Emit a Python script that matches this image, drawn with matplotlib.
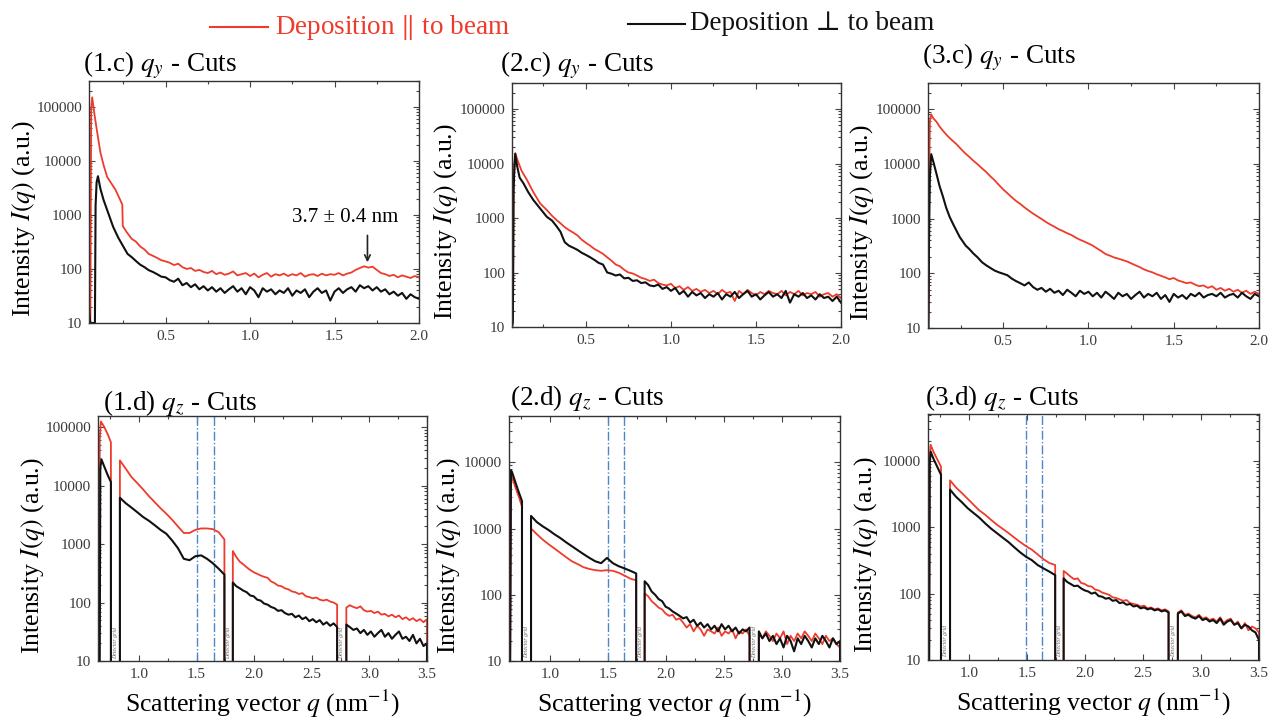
import numpy as np
import matplotlib
matplotlib.use("Agg")
import matplotlib.pyplot as plt
from matplotlib.ticker import LogLocator, FuncFormatter, MultipleLocator, NullFormatter

plt.rcParams['font.family'] = ['Liberation Serif', 'DejaVu Serif']
plt.rcParams['mathtext.fontset'] = 'stix'

RED = '#ee3b2b'
BLACK = '#111111'
GAP_LEVEL = 1  # no counts behind the detector grid

# ---------------- q_y cuts (top row) ----------------
# each series = head (explicit q) + tail on 0.30..2.00
c1_red_qh = [0.047, 0.055, 0.060, 0.066, 0.080, 0.096, 0.115, 0.135, 0.155, 0.180, 0.204, 0.225, 0.244, 0.247, 0.270]
c1_red_ih = [10, 10, 90000, 150000, 70000, 33000, 14000, 8000, 5000, 3800, 2900, 2100, 1550, 620, 480]
c1_red_tail = [360, 320, 260, 230, 190, 175, 160, 145, 138, 130, 118, 125, 108, 100, 104, 92, 96, 88, 84, 92,
               80, 86, 78, 82, 90, 76, 80, 84, 74, 82, 70, 78, 84, 72, 80, 76, 82, 74, 80, 76, 84, 72, 78, 80,
               74, 82, 76, 80, 78, 84, 76, 82, 86, 96, 104, 112, 106, 110, 96, 84, 80, 74, 78, 70, 76, 72, 68, 74, 70]
c1_blk_qh = [0.047, 0.050, 0.053, 0.056, 0.082, 0.086, 0.092, 0.100, 0.115, 0.133, 0.160, 0.190, 0.220, 0.250, 0.275]
c1_blk_ih = [20, 14, 11, 10, 10, 1500, 4000, 5200, 3000, 1900, 1100, 600, 380, 260, 190]
c1_blk_tail = [165, 140, 120, 108, 95, 88, 80, 72, 70, 62, 58, 66, 50, 55, 46, 52, 42, 48, 40, 46, 38, 44, 36, 42,
               48, 38, 44, 34, 46, 40, 30, 44, 38, 42, 34, 40, 36, 44, 32, 40, 36, 42, 30, 38, 44, 36, 40, 26, 38,
               44, 36, 42, 46, 38, 50, 44, 48, 40, 46, 38, 42, 34, 38, 32, 36, 28, 34, 30, 28]

c2_red_qh = [0.065, 0.071, 0.075, 0.084, 0.100, 0.120, 0.153, 0.190, 0.230, 0.270]
c2_red_ih = [10, 18, 5000, 15500, 11000, 7500, 5000, 3000, 1860, 1400]
c2_red_tail = [1100, 930, 800, 680, 600, 540, 480, 400, 350, 310, 270, 245, 220, 190, 165, 140, 130, 112, 100, 96,
               88, 80, 76, 70, 74, 64, 60, 58, 62, 52, 56, 48, 54, 46, 50, 44, 48, 42, 46, 40, 48, 42, 44, 30, 46,
               40, 48, 42, 38, 44, 40, 46, 42, 40, 46, 38, 44, 40, 46, 38, 42, 40, 44, 36, 40, 42, 36, 40, 34]
c2_blk_qh = [0.065, 0.070, 0.074, 0.080, 0.084, 0.095, 0.110, 0.133, 0.160, 0.190, 0.230, 0.270]
c2_blk_ih = [10, 12, 3000, 10000, 15000, 9000, 5500, 4300, 3000, 2150, 1500, 1050]
c2_blk_tail = [900, 720, 560, 360, 310, 285, 260, 230, 210, 190, 170, 150, 140, 100, 95, 88, 92, 78, 80, 70, 72,
               64, 66, 58, 56, 60, 50, 54, 46, 52, 40, 46, 36, 44, 38, 42, 34, 40, 36, 42, 32, 40, 36, 44, 34, 40,
               46, 36, 40, 32, 38, 44, 36, 40, 34, 46, 28, 40, 36, 42, 34, 38, 32, 40, 34, 36, 30, 36, 28]

c3_red_qh = [0.059, 0.063, 0.066, 0.070, 0.078, 0.090, 0.110, 0.127, 0.150, 0.175, 0.200, 0.225, 0.250, 0.275]
c3_red_ih = [10, 28, 4500, 60000, 80000, 68000, 58000, 48000, 39000, 32000, 27000, 23000, 19000, 15800]
c3_red_tail = [13500, 11400, 9800, 8300, 7100, 5900, 5000, 4100, 3400, 2900, 2450, 2100, 1850, 1600, 1400, 1230,
               1100, 980, 870, 780, 710, 640, 590, 540, 500, 450, 410, 380, 350, 320, 285, 255, 225, 210, 195, 185,
               175, 165, 152, 140, 130, 118, 110, 104, 96, 90, 84, 78, 82, 74, 70, 66, 68, 62, 58, 60, 54, 58, 50,
               54, 48, 52, 46, 50, 44, 48, 42, 46, 42]
c3_blk_qh = [0.059, 0.062, 0.065, 0.070, 0.078, 0.090, 0.108, 0.127, 0.147, 0.165, 0.186, 0.210, 0.245, 0.280]
c3_blk_ih = [10, 10, 400, 6000, 15000, 11000, 6700, 3900, 2500, 1600, 1070, 750, 460, 320]
c3_blk_tail = [280, 230, 195, 160, 140, 125, 112, 104, 98, 92, 80, 72, 66, 60, 68, 56, 50, 54, 46, 52, 44, 48, 40,
               50, 44, 38, 48, 42, 46, 38, 44, 36, 46, 40, 34, 44, 38, 42, 34, 40, 46, 36, 42, 38, 44, 34, 40, 30,
               42, 36, 40, 34, 42, 38, 44, 36, 40, 42, 38, 44, 36, 40, 42, 36, 44, 38, 34, 42, 38]

# ---------------- q_z cuts (bottom row) ----------------
gaps = [(0.757, 0.835), (1.742, 1.815), (2.72, 2.80)]
seg_spans = [(0.835, 1.742), (1.815, 2.72), (2.80, 3.50)]

d1_red_q1 = [0.655, 0.660, 0.670, 0.700, 0.730, 0.757]
d1_red_i1 = [10, 60000, 125000, 100000, 75000, 55000]
d1_red_s2 = [27000, 19500, 14000, 11000, 8600, 6600, 5200, 4100, 3300, 2600, 2000, 1550, 1550, 1750, 1850, 1850,
             1800, 1600, 1200]
d1_red_s3 = [760, 600, 500, 450, 400, 360, 330, 310, 290, 275, 265, 230, 215, 195, 190, 175, 168, 155, 150, 140,
             145, 128, 124, 118, 122, 112, 108, 112, 104, 100, 92]
d1_red_s4 = [82, 90, 84, 80, 86, 74, 70, 72, 66, 70, 62, 64, 58, 62, 56, 60, 52, 56, 50, 54, 48, 52, 46, 52]
d1_blk_q1 = [0.660, 0.665, 0.675, 0.700, 0.730, 0.757]
d1_blk_i1 = [10, 20000, 28000, 21000, 15000, 11500]
d1_blk_s2 = [6200, 5000, 4200, 3500, 2900, 2500, 2100, 1750, 1500, 1150, 850, 560, 530, 620, 640, 560, 470, 380, 300]
d1_blk_s3 = [220, 190, 175, 160, 150, 132, 128, 112, 108, 96, 92, 84, 80, 72, 74, 66, 62, 64, 56, 60, 52, 56, 48,
             52, 46, 50, 42, 46, 40, 44, 38]
d1_blk_s4 = [42, 38, 34, 36, 30, 34, 28, 32, 26, 30, 34, 26, 30, 24, 28, 32, 24, 26, 22, 28, 20, 24, 18, 20]

d2_red_q1 = [0.655, 0.662, 0.672, 0.700, 0.730, 0.757]
d2_red_i1 = [10, 5000, 6000, 4200, 3000, 2150]
d2_red_s2 = [1000, 820, 680, 580, 500, 430, 370, 320, 290, 260, 245, 235, 230, 235, 230, 215, 195, 175, 165]
d2_red_s3 = [105, 95, 80, 72, 64, 60, 52, 48, 50, 42, 44, 38, 32, 36, 28, 34, 30, 24, 30, 28, 26, 32, 24, 28, 26,
             30, 22, 28, 26, 30, 24]
d2_red_s4 = [26, 22, 28, 24, 20, 26, 22, 28, 18, 24, 20, 26, 22, 28, 24, 20, 26, 22, 18, 24, 20, 22, 18, 16]
d2_blk_q1 = [0.655, 0.662, 0.670, 0.700, 0.730, 0.757]
d2_blk_i1 = [10, 7500, 7200, 5000, 3500, 2600]
d2_blk_s2 = [1550, 1250, 1080, 950, 820, 720, 620, 540, 470, 410, 360, 320, 300, 360, 300, 270, 250, 230, 210]
d2_blk_s3 = [160, 140, 112, 100, 86, 80, 66, 62, 56, 52, 48, 44, 46, 38, 42, 34, 38, 32, 36, 30, 34, 28, 36, 30,
             34, 28, 32, 26, 30, 28, 32]
d2_blk_s4 = [28, 22, 26, 20, 24, 18, 22, 16, 24, 20, 14, 22, 18, 24, 20, 16, 22, 18, 24, 20, 16, 22, 18, 20]

d3_red_q1 = [0.655, 0.660, 0.668, 0.690, 0.720, 0.757]
d3_red_i1 = [10, 12000, 17500, 14000, 11000, 8200]
d3_red_s2 = [5100, 4000, 3300, 2700, 2200, 1800, 1550, 1300, 1100, 950, 820, 700, 600, 520, 460, 390, 330, 290, 270]
d3_red_s3 = [220, 200, 180, 165, 170, 145, 140, 130, 128, 115, 112, 104, 100, 96, 88, 86, 82, 78, 80, 72, 70, 68,
             64, 66, 60, 62, 58, 60, 56, 58, 54]
d3_red_s4 = [52, 56, 48, 50, 46, 44, 48, 42, 44, 40, 42, 38, 44, 36, 40, 42, 34, 38, 30, 36, 28, 32, 30, 26]
d3_blk_q1 = [0.655, 0.660, 0.668, 0.690, 0.720, 0.757]
d3_blk_i1 = [10, 9000, 13800, 11000, 8500, 6200]
d3_blk_s2 = [3700, 2900, 2400, 1950, 1650, 1400, 1150, 960, 820, 700, 600, 500, 420, 360, 320, 270, 240, 215, 190]
d3_blk_s3 = [170, 150, 140, 130, 132, 120, 112, 108, 100, 104, 92, 90, 84, 86, 78, 80, 72, 74, 68, 70, 64, 66, 60,
             62, 58, 60, 56, 58, 54, 56, 52]
d3_blk_s4 = [50, 54, 46, 48, 44, 42, 46, 40, 42, 38, 40, 36, 42, 34, 38, 40, 34, 36, 30, 34, 32, 28, 26, 20]

marker_lines = [(1.50, 1.65), (1.50, 1.64), (1.49, 1.63)]


def qy_series(qh, ih, tail):
    q = np.concatenate([qh, np.linspace(0.30, 2.00, len(tail))])
    i = np.concatenate([ih, tail])
    return q, i


def qz_series(q1, i1, segs):
    qs = [np.asarray(q1, float)]
    iv = [np.asarray(i1, float)]
    for (a, b), vals in zip(seg_spans, segs):
        qq = np.linspace(a, b, len(vals))
        # drop to zero on both sides of the detector grid
        qs.append(np.concatenate([[qs[-1][-1]], [a], qq, [b]]))
        iv.append(np.concatenate([[GAP_LEVEL], [GAP_LEVEL], vals, [GAP_LEVEL]]))
    return np.concatenate(qs), np.concatenate(iv)


def style_axes(ax, xlim, ylim, xmajor):
    ax.set_yscale('log')
    ax.set_xlim(*xlim)
    ax.set_ylim(*ylim)
    ax.xaxis.set_major_locator(MultipleLocator(xmajor))
    ax.xaxis.set_minor_locator(MultipleLocator(0.25))
    ax.xaxis.set_major_formatter(FuncFormatter(lambda v, _: f'{v:.1f}'))
    ax.yaxis.set_major_locator(LogLocator(base=10))
    ax.yaxis.set_minor_locator(LogLocator(base=10, subs=np.arange(2, 10)))
    ax.yaxis.set_major_formatter(FuncFormatter(lambda v, _: f'{int(round(v))}'))
    ax.yaxis.set_minor_formatter(NullFormatter())
    ax.tick_params(which='both', direction='in', top=True, right=True, colors='#444444',
                   labelsize=11, labelcolor='#3a3a3a', width=0.8, pad=5)
    ax.tick_params(which='major', length=4)
    ax.tick_params(which='minor', length=2)
    for s in ax.spines.values():
        s.set_color('#333333')
        s.set_linewidth(1.0)
    ax.set_ylabel('Intensity $I(q)$ (a.u.)', fontsize=18.5)


fig = plt.figure(figsize=(12.7, 7.22), dpi=100)
W, H = 1270, 722


def px_axes(l, t, r, b):
    return fig.add_axes([l / W, 1 - b / H, (r - l) / W, (b - t) / H])


top_boxes = [(89, 81, 419, 323), (512, 83, 841, 327), (928, 83, 1259, 328)]
top_xlims = [(0.047, 2.0), (0.065, 2.0), (0.059, 2.0)]
top_data = [
    (qy_series(c1_red_qh, c1_red_ih, c1_red_tail), qy_series(c1_blk_qh, c1_blk_ih, c1_blk_tail)),
    (qy_series(c2_red_qh, c2_red_ih, c2_red_tail), qy_series(c2_blk_qh, c2_blk_ih, c2_blk_tail)),
    (qy_series(c3_red_qh, c3_red_ih, c3_red_tail), qy_series(c3_blk_qh, c3_blk_ih, c3_blk_tail)),
]
top_titles = ['(1.c) $q_y$ - Cuts', '(2.c) $q_y$ - Cuts', '(3.c) $q_y$ - Cuts']
top_title_pos = [(83, 65), (500, 65), (922, 57)]
top_ylab_x = [-0.155, -0.158, -0.157]

for k in range(3):
    ax = px_axes(*top_boxes[k])
    (qr, ir), (qb, ib) = top_data[k]
    ax.plot(qr, ir, color=RED, lw=1.3)
    ax.plot(qb, ib, color=BLACK, lw=1.5)
    style_axes(ax, top_xlims[k], (10, 3e5), 0.5)
    ax.yaxis.set_label_coords(top_ylab_x[k], 0.43)
    fig.text(top_title_pos[k][0] / W, 1 - top_title_pos[k][1] / H, top_titles[k],
             fontsize=19.5, ha='left', va='center')
    if k == 0:
        ax.annotate('', xy=(1.695, 118), xytext=(1.695, 470),
                    arrowprops=dict(arrowstyle='->', color='#222222', lw=1.2))
        ax.text(1.565, 880, '3.7 ± 0.4 nm', fontsize=15, ha='center', va='center')

bot_boxes = [(98, 416, 427, 661), (509, 416, 840, 661), (928, 414, 1259, 660)]
bot_ylims = [(10, 1.55e5), (10, 5e4), (10, 5.1e4)]
bot_data = [
    (qz_series(d1_red_q1, d1_red_i1, [d1_red_s2, d1_red_s3, d1_red_s4]),
     qz_series(d1_blk_q1, d1_blk_i1, [d1_blk_s2, d1_blk_s3, d1_blk_s4])),
    (qz_series(d2_red_q1, d2_red_i1, [d2_red_s2, d2_red_s3, d2_red_s4]),
     qz_series(d2_blk_q1, d2_blk_i1, [d2_blk_s2, d2_blk_s3, d2_blk_s4])),
    (qz_series(d3_red_q1, d3_red_i1, [d3_red_s2, d3_red_s3, d3_red_s4]),
     qz_series(d3_blk_q1, d3_blk_i1, [d3_blk_s2, d3_blk_s3, d3_blk_s4])),
]
bot_titles = ['(1.d) $q_z$ - Cuts', '(2.d) $q_z$ - Cuts', '(3.d) $q_z$ - Cuts']
bot_title_pos = [(103, 403), (510, 398), (925, 398)]
bot_ylab_x = [-0.155, -0.14, -0.145]

for k in range(3):
    ax = px_axes(*bot_boxes[k])
    (qr, ir), (qb, ib) = bot_data[k]
    for g0, g1 in gaps:
        ax.text((g0 + g1) / 2, 11, 'Detector grid', rotation=90, fontsize=4.2, color='#666666',
                ha='center', va='bottom', style='italic')
    for xv in marker_lines[k]:
        ax.axvline(xv, color='#4a86c8', lw=1.0, ls='-.')
    ax.plot(qr, ir, color=RED, lw=1.3)
    ax.plot(qb, ib, color=BLACK, lw=1.5)
    style_axes(ax, (0.645, 3.5), bot_ylims[k], 0.5)
    ax.yaxis.set_label_coords(bot_ylab_x[k], 0.43)
    ax.set_xlabel('Scattering vector $q$ (nm$^{-1}$)', fontsize=18.5, labelpad=5)
    fig.text(bot_title_pos[k][0] / W, 1 - bot_title_pos[k][1] / H, bot_titles[k],
             fontsize=19.5, ha='left', va='center')

# legend at the top
fig.add_artist(plt.Line2D([210 / W, 268 / W], [1 - 27 / H, 1 - 27 / H], color=RED, lw=1.5))
fig.text(275 / W, 1 - 27 / H, 'Deposition ${\\Vert}$ to beam', color=RED, fontsize=19.5, va='center')
fig.add_artist(plt.Line2D([628 / W, 685 / W], [1 - 24 / H, 1 - 24 / H], color=BLACK, lw=1.5))
fig.text(690 / W, 1 - 24 / H, 'Deposition \u22a5 to beam', color=BLACK, fontsize=19.5, va='center')

fig.savefig('out.png', dpi=100)
